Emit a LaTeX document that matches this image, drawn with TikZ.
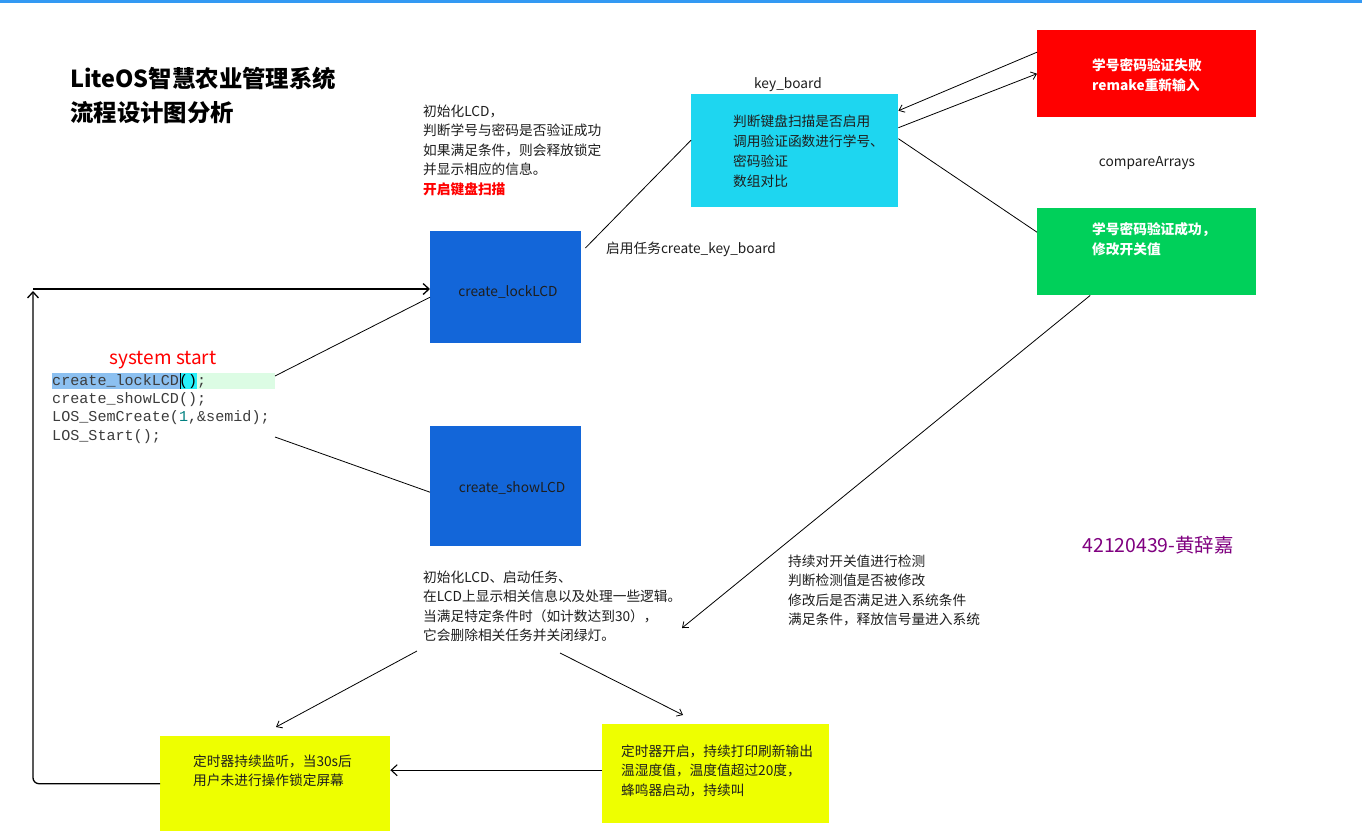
\documentclass[tikz,border=0pt]{standalone}
\usepackage{fontspec}
\setmainfont{Noto Sans CJK SC}
\setmonofont{Liberation Mono}
\usetikzlibrary{arrows.meta}
\definecolor{topblue}{RGB}{51,153,243}
\definecolor{cyanbox}{RGB}{30,214,240}
\definecolor{lockblue}{RGB}{19,102,217}
\definecolor{redbox}{RGB}{255,0,0}
\definecolor{greenbox}{RGB}{0,208,90}
\definecolor{yellowbox}{RGB}{238,255,0}
\definecolor{idpurple}{RGB}{128,0,128}
\definecolor{txtgray}{RGB}{30,30,30}
\definecolor{codegray}{RGB}{60,60,60}
\definecolor{codeteal}{RGB}{0,128,128}
\definecolor{hlgreen}{RGB}{220,252,228}
\definecolor{hlblue}{RGB}{140,192,240}
\definecolor{hlcyan}{RGB}{40,240,250}
\begin{document}
\begin{tikzpicture}[x=1pt,y=-1pt,
  box/.style={draw=none,inner sep=0pt,anchor=north west},
  txt/.style={anchor=north west,inner sep=0pt,align=left,text=txtgray,font=\fontsize{13.7}{19.5}\selectfont},
  wtxt/.style={txt,text=white,font=\fontsize{13.7}{19.8}\selectfont\bfseries},
  lbl/.style={inner sep=0pt,text=txtgray,font=\fontsize{13.7}{19.5}\selectfont},
  conn/.style={draw=black,line width=0.8pt},
  arr/.style={conn,-{Straight Barb[length=5pt,width=8pt]}},
  bigarr/.style={draw=black,line width=1.3pt,-{Straight Barb[length=6pt,width=11pt,line width=1.3pt]}}
]
\useasboundingbox (0,0) rectangle (1362,839);
\fill[white] (0,0) rectangle (1362,839);
\fill[topblue] (0,0) rectangle (1362,3);

% title
\node[txt,text=black,font=\fontsize{23.4}{34}\selectfont\bfseries] (title) at (70,63.2)
  {\strut LiteOS智慧农业管理系统\\流程设计图分析};

% boxes
\node[box,fill=cyanbox,minimum width=207pt,minimum height=113pt] (cyan) at (691,94) {};
\node[box,fill=redbox,minimum width=219pt,minimum height=87pt] (red) at (1037,30) {};
\node[box,fill=greenbox,minimum width=219pt,minimum height=87pt] (green) at (1037,208) {};
\node[box,fill=lockblue,minimum width=151pt,minimum height=112pt] (lock) at (430,231) {};
\node[box,fill=lockblue,minimum width=151pt,minimum height=120pt] (show) at (430,426) {};
\node[box,fill=yellowbox,minimum width=230pt,minimum height=95pt] (y1) at (160,736) {};
\node[box,fill=yellowbox,minimum width=227pt,minimum height=99pt] (y2) at (602,724) {};

% texts
\node[txt] (blk1) at (423,102.35)
  {\strut 初始化LCD，\\判断学号与密码是否验证成功\\如果满足条件，则会释放锁定\\并显示相应的信息。\\{\color{redbox}\bfseries 开启键盘扫描}};
\node[lbl] (kb) at (788,85) {key\_board};
\node[txt,font=\fontsize{13.7}{20}\selectfont] (cyantxt) at (733,112.5)
  {\strut 判断键盘扫描是否启用\\调用验证函数进行学号、\\密码验证\\数组对比};
\node[wtxt] (redtxt) at (1092,56.3) {\strut 学号密码验证失败\\remake重新输入};
\node[lbl] (cmp) at (1147,163) {compareArrays};
\node[wtxt] (greentxt) at (1092,220.8) {\strut 学号密码验证成功，\\修改开关值};
\node[lbl] (locktxt) at (508,292) {create\_lockLCD};
\node[lbl] (showtxt) at (512,488) {create\_showLCD};
\node[lbl,anchor=west] (task) at (606,249) {启用任务create\_key\_board};
\node[lbl,text=redbox,font=\fontsize{19}{22}\selectfont] (start) at (163,360) {system start};

% code block
\fill[hlgreen] (52,373) rectangle (275,389);
\fill[hlblue] (52,373) rectangle (179.5,389);
\fill[hlcyan] (179.5,373) rectangle (197,389);
\draw[black,line width=0.8pt] (180,373) -- (180,389);
\node[txt,text=codegray,font=\fontsize{15.1}{18.3}\ttfamily] (code) at (52,372.2)
  {\strut create\_lockLCD{\color{black}()};\\create\_showLCD();\\LOS\_SemCreate({\color{codeteal}1},\&semid);\\LOS\_Start();};
\coordinate (codeA) at (275,376);
\coordinate (codeB) at (275,437);

\node[txt] (blk2) at (423,568.35)
  {\strut 初始化LCD、启动任务、\\在LCD上显示相关信息以及处理一些逻辑。\\当满足特定条件时（如计数达到30），\\它会删除相关任务并关闭绿灯。};
\node[txt] (blk3) at (788,552.35)
  {\strut 持续对开关值进行检测\\判断检测值是否被修改\\修改后是否满足进入系统条件\\满足条件，释放信号量进入系统};
\node[lbl,text=idpurple,font=\fontsize{19.4}{22}\selectfont] (id) at (1158,545) {42120439-黄辞嘉};
\node[txt] (y1txt) at (193,752.35) {\strut 定时器持续监听，当30s后\\用户未进行操作锁定屏幕};
\node[txt] (y2txt) at (621,742.35) {\strut 定时器开启，持续打印刷新输出\\温湿度值，温度值超过20度，\\蜂鸣器启动，持续叫};

% connector free ends
\coordinate (loopTop) at (33,291);
\coordinate (loopStart) at (33,289);
\coordinate (blk2in) at (682,628);
\coordinate (blk2outL) at (417,651);
\coordinate (y1in) at (276,727);
\coordinate (blk2outR) at (560,653);
\coordinate (y2in) at (683,715);

% connectors
\draw[bigarr,rounded corners=6pt] (y1.west) -| (loopTop);
\draw[bigarr] (loopStart) -- (lock.west |- loopStart);
\draw[conn] (codeA) -- ([yshift=-10pt]lock.west);
\draw[conn] (codeB) -- ([yshift=-6pt]show.west);
\draw[conn] ([shift={(4pt,-17pt)}]lock.north east) -- ([yshift=10.5pt]cyan.west);
\draw[arr] ([yshift=21.5pt]red.west) -- ([yshift=40pt]cyan.east);
\draw[arr] ([yshift=23pt]cyan.east) -- (red.west);
\draw[conn] ([yshift=12pt]cyan.east) -- ([yshift=19.5pt]green.west);
\draw[arr] ([xshift=-56.5pt]green.south) -- (blk2in);
\draw[arr] (blk2outL) -- (y1in);
\draw[arr] (blk2outR) -- (y2in);
\draw[draw=black,line width=1.1pt,-{Straight Barb[length=6pt,width=11pt,line width=1.1pt]}] ([yshift=3.5pt]y2.west) -- ([yshift=13.5pt]y1.east);
\end{tikzpicture}
\end{document}
